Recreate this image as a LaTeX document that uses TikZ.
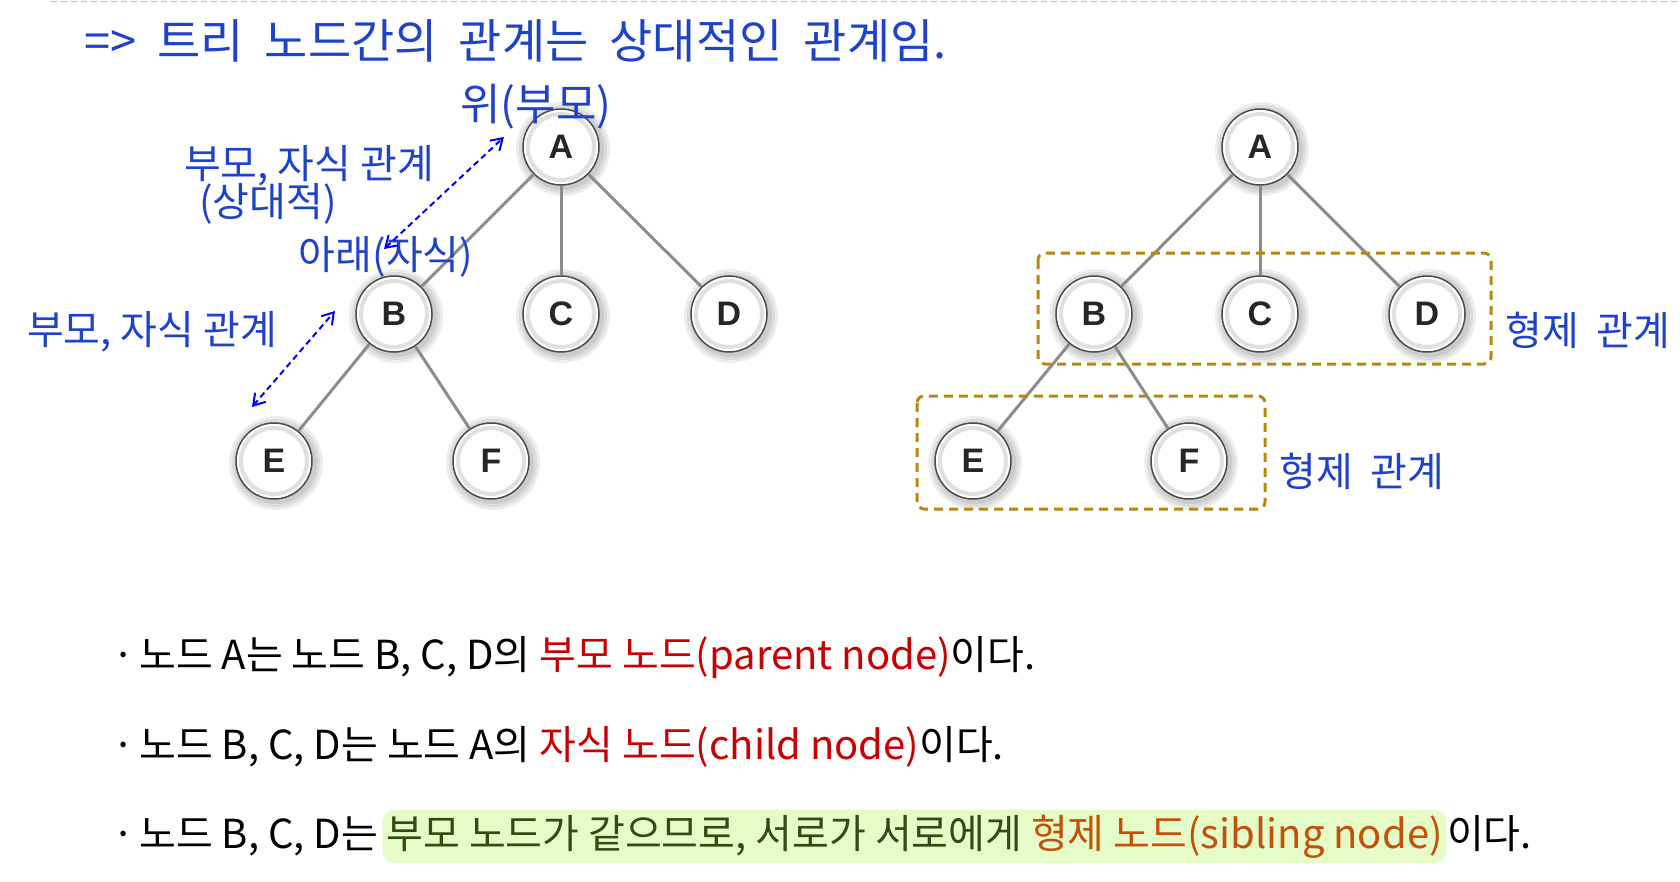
\documentclass[tikz,border=0pt]{standalone}
\usepackage{fontspec}
\setmainfont{Noto Sans}
\newfontfamily\kr{Noto Sans CJK KR}
\newfontfamily\letterfont{Liberation Sans}
\usetikzlibrary{arrows.meta}
\definecolor{handblue}{RGB}{30,66,200}
\definecolor{arrowblue}{RGB}{0,0,240}
\definecolor{boxgold}{RGB}{184,136,14}
\definecolor{edgegray}{RGB}{140,140,140}
\definecolor{pred}{RGB}{200,0,0}
\definecolor{hlgreen}{RGB}{230,252,200}
\definecolor{olive}{RGB}{50,75,15}
\definecolor{sibbrown}{RGB}{196,80,10}
\definecolor{topline}{RGB}{170,192,216}
\tikzset{
  tnode/.style={circle,draw=black!70,line width=1.5pt,fill=white,minimum size=76pt,inner sep=0pt,
    font=\letterfont\bfseries\fontsize{34}{34}\selectfont,text=black!85},
  tedge/.style={draw=edgegray,line width=3pt},
  sibbox/.style={draw=boxgold,line width=3pt,dash pattern=on 9pt off 6pt,rounded corners=7pt},
  hand/.style={text=handblue,font=\kr\fontsize{40}{42}\selectfont,inner sep=0pt},
  relarrow/.style={draw=arrowblue,line width=2pt,dash pattern=on 6pt off 4pt,
    {Straight Barb[length=11pt,width=14pt]}-{Straight Barb[length=11pt,width=14pt]}},
  textline/.style={anchor=base west,inner sep=0pt,font=\kr\fontsize{40}{42}\selectfont},
}
% a tree node with its grey glow and inner ring
\newcommand\treenode[3]{%
  \foreach \r in {47,44,41}{\fill[black,opacity=.07] (#2) ++(2,2) circle (\r pt);}
  \node[tnode] (#1) at (#2) {#3};
  \draw[black!12,line width=4pt] (#1.center) circle (33pt);
}
\begin{document}
\begin{tikzpicture}[x=1pt,y=-1pt]
\useasboundingbox[fill=white] (0,0) rectangle (1680,881);
% top
\draw[topline,line width=1.5pt,dash pattern=on 6pt off 4pt] (51,1.5) -- (1680,1.5);
\node[hand,anchor=west,font=\kr\fontsize{47}{50}\selectfont] (note) at (84,41)
  {=>\ \ 트리\ \ 노드간의\ \ 관계는\ \ 상대적인\ \ 관계임.};

% left tree
\treenode{lA}{561,147}{A}
\treenode{lB}{394,314}{B}
\treenode{lC}{561,314}{C}
\treenode{lD}{729,314}{D}
\treenode{lE}{274,461}{E}
\treenode{lF}{491,461}{F}
\draw[tedge] (lA) -- (lB);
\draw[tedge] (lA) -- (lC);
\draw[tedge] (lA) -- (lD);
\draw[tedge] (lB) -- (lE);
\draw[tedge] (lB) -- (lF);

\node[hand,font=\kr\fontsize{44}{46}\selectfont] (up) at (536,107) {위(부모)};
\node[hand] (rel1) at (309,166) {부모,\ 자식\ 관계};
\node[hand] (rel1b) at (268,204) {(상대적)};
\node[hand] (down) at (386,257) {아래(자식)};
\node[hand] (rel2) at (152,332) {부모,\ 자식\ 관계};
\coordinate (a1s) at (384,249);
\coordinate (a1e) at (504,137);
\coordinate (a2s) at (252,407);
\coordinate (a2e) at (335,311);
\draw[relarrow] (a1s) -- (a1e);
\draw[relarrow] (a2s) -- (a2e);

% right tree
\treenode{rA}{1260,147}{A}
\treenode{rB}{1094,314}{B}
\treenode{rC}{1260,314}{C}
\treenode{rD}{1427,314}{D}
\treenode{rE}{973,461}{E}
\treenode{rF}{1189,461}{F}
\draw[tedge] (rA) -- (rB);
\draw[tedge] (rA) -- (rC);
\draw[tedge] (rA) -- (rD);
\draw[tedge] (rB) -- (rE);
\draw[tedge] (rB) -- (rF);

\draw[sibbox] (1038,253) rectangle (1491,364);
\draw[sibbox] (917,396) rectangle (1265,509);
\node[hand,anchor=west] (sib1) at (1505,330) {형제\ \ 관계};
\node[hand,anchor=west] (sib2) at (1279,471) {형제\ \ 관계};

% bottom text
\node[textline] (b1) at (112,669) {·};
\node[textline] (l1) at (139,669) {노드 A는 노드 B, C, D의 \textcolor{pred}{부모 노드(parent node)}이다.};
\node[textline] (b2) at (112,759) {·};
\node[textline] (l2) at (139,759) {노드 B, C, D는 노드 A의 \textcolor{pred}{자식 노드(child node)}이다.};
\node[textline] (b3) at (112,848) {·};
\node[textline] (l3a) at (139,848) {노드 B, C, D는};
\node[textline,fill=hlgreen,rounded corners=12pt,inner xsep=4pt,inner ysep=5pt,text=olive]
  (l3b) at ([xshift=4pt]l3a.base east) {부모 노드가 같으므로, 서로가 서로에게 \textcolor{sibbrown}{형제 노드(sibling node)}};
\node[textline] (l3c) at (l3b.base east) {이다.};
\end{tikzpicture}
\end{document}
